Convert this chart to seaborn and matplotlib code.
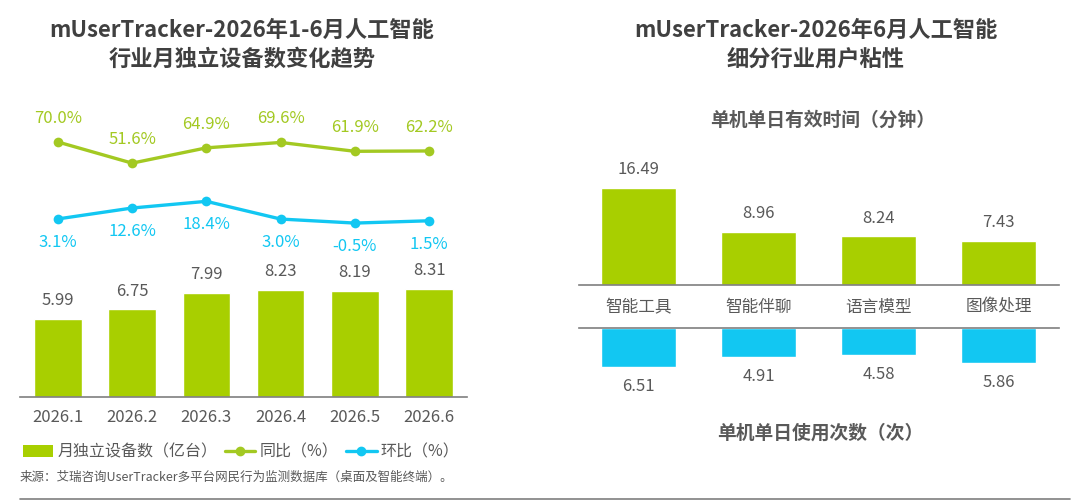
import numpy as np
import pandas as pd
import matplotlib
matplotlib.use("Agg")
import matplotlib.pyplot as plt
import seaborn as sns
from matplotlib.patches import Patch
from matplotlib.lines import Line2D

# data
months = ["2026.1", "2026.2", "2026.3", "2026.4", "2026.5", "2026.6"]
devices = [5.99, 6.75, 7.99, 8.23, 8.19, 8.31]        # 月独立设备数（亿台）
yoy = [70.0, 51.6, 64.9, 69.6, 61.9, 62.2]            # 同比（%）
mom = [3.1, 12.6, 18.4, 3.0, -0.5, 1.5]               # 环比（%）

segments = ["智能工具", "智能伴聊", "语言模型", "图像处理"]
minutes = [16.49, 8.96, 8.24, 7.43]                   # 单机单日有效时间（分钟）
times = [6.51, 4.91, 4.58, 5.86]                      # 单机单日使用次数（次）

GREEN = "#A8CF00"
LGREEN = "#A3C922"
BLUE = "#12C7F2"
GRAY = "#595959"
DARK = "#404040"

sns.set_theme(style="white")
plt.rcParams["font.family"] = ["Noto Sans CJK SC", "DejaVu Sans"]

W, H = 1080, 501
fig = plt.figure(figsize=(W / 100, H / 100), dpi=100)


def px_axes(x0, y0, x1, y1):
    # axes from pixel box (top-left origin)
    return fig.add_axes([x0 / W, 1 - y1 / H, (x1 - x0) / W, (y1 - y0) / H])


# ---------- left chart ----------
ax = px_axes(20, 100, 467, 397)
df_dev = pd.DataFrame({"month": months, "devices": devices})
sns.barplot(data=df_dev, x="month", y="devices", color=GREEN, width=0.64,
            saturation=1, ax=ax)
ax.bar_label(ax.containers[0], fmt="%.2f", padding=7, fontsize=12, color=GRAY)
ax.set_xlim(-0.51, 5.51)
ax.set_ylim(0, 297 / 13)
ax.set_xlabel("")
ax.set_ylabel("")
ax.set_yticks([])
ax.tick_params(axis="x", length=0, pad=9, labelsize=12, labelcolor=GRAY)
for s in ["top", "left", "right"]:
    ax.spines[s].set_visible(False)
ax.spines["bottom"].set_color("#7f7f7f")
ax.spines["bottom"].set_linewidth(1.2)

ax2 = ax.twinx()
xs = np.arange(len(months))
sns.lineplot(x=xs, y=yoy, ax=ax2, color=LGREEN, linewidth=2.4, marker="o",
             markersize=7, markeredgewidth=0)
sns.lineplot(x=xs, y=mom, ax=ax2, color=BLUE, linewidth=2.4, marker="o",
             markersize=7, markeredgewidth=0)
ax2.set_ylim(-151.7, 106.5)
ax2.set_yticks([])
ax2.set_ylabel("")
for s in ax2.spines.values():
    s.set_visible(False)
for x, v in zip(xs, yoy):
    ax2.annotate(f"{v:.1f}%", (x, v), xytext=(0, 17), textcoords="offset points",
                 ha="center", va="center", fontsize=12, color=LGREEN)
for x, v in zip(xs, mom):
    ax2.annotate(f"{v:.1f}%", (x, v), xytext=(0, -17), textcoords="offset points",
                 ha="center", va="center", fontsize=12, color=BLUE)

handles = [
    Patch(facecolor=GREEN, edgecolor="none", label="月独立设备数（亿台）"),
    Line2D([], [], color=LGREEN, lw=2.4, marker="o", ms=6, label="同比（%）"),
    Line2D([], [], color=BLUE, lw=2.4, marker="o", ms=6, label="环比（%）"),
]
leg = fig.legend(handles=handles, loc="center", ncol=3, frameon=False,
                 bbox_to_anchor=(241 / W, 1 - 452 / H), fontsize=11.5,
                 handlelength=1.9, handletextpad=0.25, columnspacing=0.5,
                 handleheight=0.8)
for t in leg.get_texts():
    t.set_color(GRAY)

fig.text(242 / W, 1 - 30 / H, "mUserTracker-2026年1-6月人工智能", ha="center",
         va="center", fontsize=16, fontweight="bold", color=DARK)
fig.text(242 / W, 1 - 59 / H, "行业月独立设备数变化趋势", ha="center",
         va="center", fontsize=16, fontweight="bold", color=DARK)

fig.text(20 / W, 1 - 477 / H,
         "来源：艾瑞咨询UserTracker多平台网民行为监测数据库（桌面及智能终端）。",
         ha="left", va="center", fontsize=9, color=GRAY)
fig.add_artist(Line2D([20 / W, 1070 / W], [1 - 499 / H, 1 - 499 / H],
                      color="#7f7f7f", lw=1.2))

# ---------- right chart ----------
fig.text(816 / W, 1 - 30 / H, "mUserTracker-2026年6月人工智能", ha="center",
         va="center", fontsize=16, fontweight="bold", color=DARK)
fig.text(816 / W, 1 - 59 / H, "细分行业用户粘性", ha="center",
         va="center", fontsize=16, fontweight="bold", color=DARK)
fig.text(823 / W, 1 - 120 / H, "单机单日有效时间（分钟）", ha="center",
         va="center", fontsize=13.5, fontweight="bold", color=GRAY)
fig.text(820 / W, 1 - 433 / H, "单机单日使用次数（次）", ha="center",
         va="center", fontsize=13.5, fontweight="bold", color=GRAY)

df_seg = pd.DataFrame({"seg": segments, "minutes": minutes, "times": times})

axt = px_axes(578.5, 150, 1058.5, 285)
sns.barplot(data=df_seg, x="seg", y="minutes", color=GREEN, width=0.625,
            saturation=1, ax=axt)
axt.bar_label(axt.containers[0], fmt="%.2f", padding=7, fontsize=12, color=GRAY)
axt.set_xlim(-0.5, 3.5)
axt.set_ylim(0, 135 / 5.9)
axt.set_xlabel("")
axt.set_ylabel("")
axt.set_yticks([])
axt.tick_params(axis="x", length=0, pad=10, labelsize=12, labelcolor=GRAY)
for s in ["top", "left", "right"]:
    axt.spines[s].set_visible(False)
axt.spines["bottom"].set_color("#7f7f7f")
axt.spines["bottom"].set_linewidth(1.2)

axb = px_axes(578.5, 328, 1058.5, 410)
sns.barplot(data=df_seg, x="seg", y="times", color=BLUE, width=0.625,
            saturation=1, ax=axb)
for i, v in enumerate(times):
    axb.annotate(f"{v:.2f}", (i, v), xytext=(0, -14), textcoords="offset points",
                 ha="center", va="center", fontsize=12, color=GRAY)
axb.set_xlim(-0.5, 3.5)
axb.set_ylim(82 / 6, 0)
axb.set_xlabel("")
axb.set_ylabel("")
axb.set_yticks([])
axb.set_xticks([])
for s in ["bottom", "left", "right"]:
    axb.spines[s].set_visible(False)
axb.spines["top"].set_color("#7f7f7f")
axb.spines["top"].set_linewidth(1.2)

fig.savefig("out.png", dpi=100)
